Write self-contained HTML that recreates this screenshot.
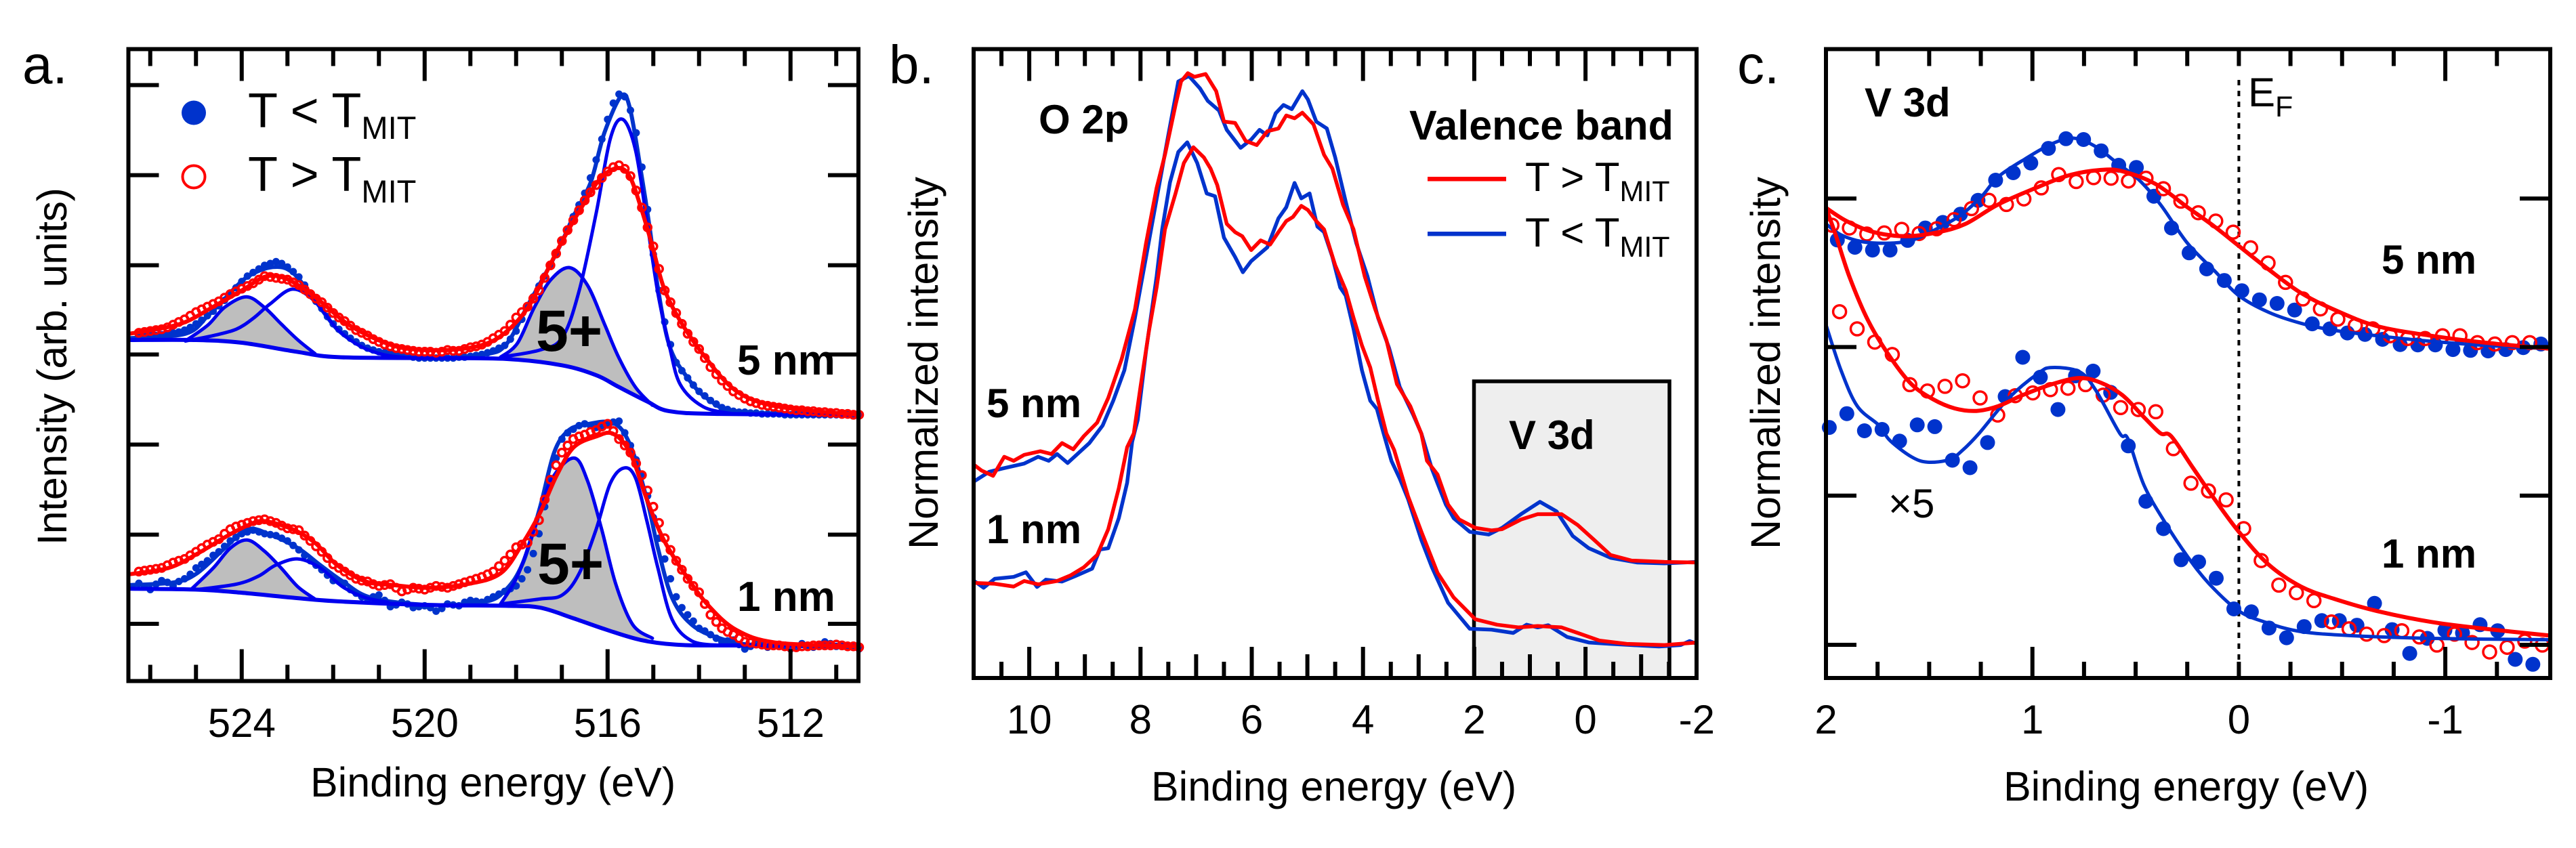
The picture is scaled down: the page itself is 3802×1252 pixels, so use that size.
<!DOCTYPE html>
<html lang="en">
<head>
<meta charset="utf-8">
<title>XPS and valence band spectra</title>
<style>
html,body{margin:0;padding:0;background:#fff;width:3802px;height:1252px;overflow:hidden}
svg{display:block}
text{font-family:"Liberation Sans",sans-serif;fill:#000}
.axis{font-size:61px}
.tick{font-size:60px;text-anchor:middle}
.bold{font-weight:bold;font-size:60px}
.panel{font-size:80px}
</style>
</head>
<body>
<svg id="figure" xmlns="http://www.w3.org/2000/svg" width="3802" height="1252" viewBox="0 0 3802 1252">
  <rect x="0" y="0" width="3802" height="1252" fill="#fff"/>
  <g id="a-plot"></g>
  <rect x="2175.5" y="563" width="288.5" height="438" fill="#eeeeee" stroke="#000" stroke-width="5.5"/>
  <g id="b-plot"></g>
  <g id="c-plot"></g>
  <g id="axes"></g>
  <rect x="189.5" y="72.5" width="1077.5" height="933" fill="none" stroke="#000" stroke-width="6"/>
  <rect x="1437" y="72.5" width="1067" height="928.5" fill="none" stroke="#000" stroke-width="6"/>
  <rect x="2695" y="72.5" width="1069" height="928.5" fill="none" stroke="#000" stroke-width="6"/>

  <text class="panel" x="33" y="123">a.</text>
  <text class="panel" x="1312" y="123">b.</text>
  <text class="panel" x="2564" y="123">c.</text>

  <text class="axis" transform="translate(98,805) rotate(-90)" textLength="528">Intensity (arb. units)</text>
  <text class="axis" transform="translate(1384,811) rotate(-90)" textLength="550">Normalized intensity</text>
  <text class="axis" transform="translate(2627,811) rotate(-90)" textLength="550">Normalized intensity</text>

  <text class="axis" x="458" y="1176">Binding energy (eV)</text>
  <text class="axis" x="1699" y="1182">Binding energy (eV)</text>
  <text class="axis" x="2957" y="1182">Binding energy (eV)</text>

  <g>
    <circle cx="286" cy="166.5" r="18" fill="#0033cc"/>
    <text x="366" y="188" font-size="72">T &lt; T<tspan dy="17" font-size="47">MIT</tspan></text>
    <circle cx="286" cy="261" r="16.5" fill="#fff" stroke="#ff0000" stroke-width="4"/>
    <text x="366" y="282" font-size="72">T &gt; T<tspan dy="17" font-size="47">MIT</tspan></text>
  </g>
  <text x="791" y="518" font-size="86" font-weight="bold">5+</text>
  <text x="793" y="862" font-size="86" font-weight="bold">5+</text>
  <text class="bold" x="1088" y="553" font-size="62" style="font-size:62px">5 nm</text>
  <text class="bold" x="1088" y="902" font-size="62" style="font-size:62px">1 nm</text>

  <text class="bold" x="1533" y="197">O 2p</text>
  <text class="bold" x="2080" y="206" style="font-size:61px">Valence band</text>
  <g>
    <rect x="2107" y="261" width="116" height="6.5" fill="#ff0000"/>
    <text x="2251" y="282" font-size="60">T &gt; T<tspan dy="15" font-size="43">MIT</tspan></text>
    <rect x="2107" y="342" width="116" height="6.5" fill="#0033cc"/>
    <text x="2251" y="364" font-size="60">T &lt; T<tspan dy="15" font-size="43">MIT</tspan></text>
  </g>
  <text class="bold" x="1456" y="616">5 nm</text>
  <text class="bold" x="1456" y="802">1 nm</text>
  <text class="bold" x="2227" y="663">V 3d</text>

  <text class="bold" x="2752" y="172">V 3d</text>
  <text x="3318" y="157" font-size="60">E<tspan dy="15" font-size="43">F</tspan></text>
  <text class="bold" x="3515" y="404">5 nm</text>
  <text class="bold" x="3515" y="838">1 nm</text>
  <text x="2787" y="764" font-size="60">×5</text>
</svg>

<script>
/* ---------- Panel a: V 2p core level (arb. units) ---------- */
const aMajorTicks = [524, 520, 516, 512];
const aMinorTicks = [526, 525, 523, 522, 521, 519, 518, 517, 515, 514, 513, 511];
const aIntensityTicks = [0, 99, 199, 299, 398, 498, 598];
const aTickLabels = ['524', '520', '516', '512'];

const a5BaseE = [526.46,525,524,522.8,521.9,519.9,518.2,517,516.25,515.76,515.14,514.65,513.55,510.5];
const a5BaseI = [315,315,312,302,296,295,294,287,276,263,247,236,233,232];
const a5C1E = [525.23,524.74,524.37,523.9,523.51,523.14,522.77,522.4];
const a5C1I = [314,331.6,351.5,363,351.5,333,315,300];
const a5C2E = [525.23,524.62,524.12,523.75,523.38,522.89,522.4,521.91,521.42,520.92,520.43];
const a5C2I = [314,320,327,339,355,371.5,358,327,308.6,299,295.7];
const a5C3E = [518.34,517.97,517.6,517.24,516.83,516.44,516.07,515.76,515.39,515.02];
const a5C3I = [296,311.6,351.5,382,395.4,376,333,296,262.6,242.6];
const a5C4E = [518.34,517.48,516.99,516.62,516.25,515.94,515.67,515.39,515.14,514.9,514.65,514.41,513.91,513.3];
const a5C4I = [296,304,317.8,370,455.8,538.6,560,526,446.6,367,308.6,265.6,241,233.4];
const a5BlueFitE = [526.46,525.23,524.74,524.37,523.88,523.32,522.89,522.4,521.91,521.42,520.92,519.94,518.71,518.22,517.73,517.3,516.99,516.74,516.37,516.07,515.7,515.51,515.27,515.08,514.9,514.65,514.28,513.79,513.05,510.5];
const a5BlueFitI = [317,322,342,361,385,396,390,359,327,310,301,295,299,310,355,394,425,453,490,545,586,572,502,440,373,309,275,249,235,232];
const a5RedFitE = [526.46,525.85,525.23,524.62,524,523.51,523.14,522.77,522.28,521.66,520.92,520.31,519.45,518.71,518.22,517.73,517.3,516.99,516.5,516.13,515.76,515.51,515.27,515.02,514.77,514.41,513.91,513.3,512.68,511.82,510.5];
const a5RedFitI = [322,327,335,352,370,385,385,376,358,332,313,305,304,310,324,352,394,425,468,496,506,496,462,419,373,336,299,263,246,238,232];
const a5BlueDots = [320,320,321,323,326,333,342,353,366,380,390,398,402,396,385,366,350,333,322,313,306,302,300,298,296,295,295,295,296,297,299,303,309,325,352,375,398,425,452,478,515,560,588,570,507,410,335,290,273,258,248,240,236,235,234,233,233,232,232,232,232,232,232,232];
const a5RedDots = [323,325,327,332,338,346,352,358,366,372,378,386,384,382,376,366,357,345,336,326,320,313,308,305,303,302,301,304,303,307,310,317,325,340,352,370,398,425,448,470,487,502,509,497,462,419,370,345,322,305,285,270,258,250,245,242,240,238,237,236,235,234,233,232];
const a5BlueDotsHalf = [320,320,322,324,329,337,347,359,373,386,394,400,400,391,376,358,341,327,317,309,304,301,299,297,295,295,295,295,296,298,301,306,316,338,363,386,411,438,465,495,538,578,585,545,460,370,310,281,265,253,244,238,235,234,233,233,232,232,232,232,232,232,232];
const a5RedDotsHalf = [324,326,329,335,342,349,355,362,369,375,382,385,383,379,371,361,351,340,331,323,316,310,306,304,302,302,302,303,305,308,313,321,332,346,361,384,411,437,459,479,495,507,505,481,440,394,357,333,313,295,277,264,254,247,243,241,239,237,236,235,234,233,232];

const a1BaseE = [526.46,524.98,524,522.89,521.91,519.94,518.22,517.48,516.74,516,515.27,514.53,513.55,510.5];
const a1BaseI = [39,38,34.5,29,25,21,20,18,6,-7,-18,-23,-24,-24];
const a1C1E = [525.11,524.62,524.25,523.88,523.51,523.14,522.77,522.4];
const a1C1I = [38,62,84,93,81,62,41,27.5];
const a1C2E = [524.98,524.12,523.63,523.26,522.77,522.28,521.79,521.29,520.8];
const a1C2I = [38,44,53,65,72,62,41,29,24];
const a1C3E = [518.34,517.97,517.6,517.24,516.74,516.44,516.13,515.82,515.45,515.02];
const a1C3I = [22,53,105,159,184,159,105,44,-1,-16];
const a1C4E = [518.34,517.48,516.99,516.62,516.25,515.94,515.64,515.39,515.14,514.9,514.59,514.16,513.55];
const a1C4I = [22,27.5,32,56,105,156,173,162,114,62,5,-19,-24];
const a1BlueFitE = [526.46,525.48,524.98,524.37,523.88,523.38,522.77,522.28,521.79,521.17,519.94,518.71,518.22,517.85,517.48,517.17,516.87,516.5,515.88,515.51,515.14,514.9,514.59,514.16,513.55,512.68,510.5];
const a1BlueFitI = [43,46,56,84,105,99,84,65,47,29,21,24,38,68,129,190,214,221,223,199,138,84,29,-1,-16,-24,-25];
const a1RedFitE = [526.46,525.6,524.98,524.37,523.88,523.51,522.89,522.4,521.91,521.29,520.68,519.94,519.08,518.34,517.85,517.48,517.11,516.74,516.25,515.88,515.51,515.14,514.77,514.28,513.79,513.18,512.31,510.5];
const a1RedFitI = [55,62,77.5,96,109,114,105,90,65,47,43,40,44,56,90,123,165,196,208,211,190,138,93,53,20,-7,-21,-25];
const a1BlueDots = [45,38,48,42,50,62,70,80,92,100,104,100,98,92,82,70,60,48,45,34,28,32,19,24,18,20,14,22,20,26,24,30,36,42,60,100,160,205,216,222,218,222,225,198,165,118,72,30,10,-5,-12,-20,-18,-28,-22,-26,-24,-28,-22,-26,-20,-25,-24,-28];
const a1RedDots = [58,60,62,68,72,80,88,94,105,110,114,116,112,106,104,92,80,66,58,50,47,42,44,36,40,38,42,40,44,48,52,58,70,85,90,115,160,190,205,210,215,222,205,190,165,130,95,70,50,35,10,-5,-12,-20,-22,-24,-24,-26,-25,-24,-24,-23,-25,-26];
const a1BlueDotsHalf = [41,44,46,47,55,66,76,86,96,102,102,99,95,87,76,65,54,47,38,30,30,26,21,22,19,18,17,21,24,25,27,33,39,50,78,130,184,212,220,220,220,224,212,182,142,95,50,18,3,-8,-16,-19,-23,-25,-24,-25,-26,-25,-24,-23,-22,-25,-26];
const a1RedDotsHalf = [59,61,65,70,76,84,91,100,108,112,115,114,109,105,98,86,73,62,54,48,44,43,40,38,39,40,41,42,46,50,55,64,77,88,102,138,176,198,208,213,219,214,198,178,148,112,82,60,42,22,2,-9,-16,-21,-23,-24,-25,-26,-25,-24,-24,-24,-25];

/* ---------- Panel b: valence band ---------- */
const bMajorTicks = [10, 8, 6, 4, 2, 0];
const bMidTicks = [9, 7, 5, 3, 1, -1];
const bMinorTicks = [10.5, 9.5, 8.5, 7.5, 6.5, 5.5, 4.5, 3.5, 2.5, 1.5, 0.5, -0.5, -1.5];
const bTickValues = [10, 8, 6, 4, 2, 0, -2];
const bTickLabels = ['10', '8', '6', '4', '2', '0', '-2'];

const b5BlueE = [10.99,10.72,10.48,10.09,9.84,9.65,9.5,9.31,8.92,8.68,8.49,8.29,8.1,7.9,7.71,7.51,7.32,7.13,6.93,6.79,6.59,6.45,6.2,6.01,5.86,5.72,5.57,5.43,5.28,5.09,4.99,4.84,4.65,4.5,4.31,4.12,3.92,3.73,3.53,3.34,3.1,2.95,2.76,2.51,2.37,2.08,1.74,1.5,1.16,0.82,0.52,0.23,-0.06,-0.45,-0.93,-1.42,-2];
const b5BlueV = [142.3,149.2,151.6,155.2,160.1,157.2,162.1,155.6,170,182.8,200.7,222.7,260.7,304.7,346.7,390.7,431.7,435.7,426.7,417.7,410.7,396.7,383.7,389.7,396.7,392.7,408.7,414.7,411.7,424.7,418.7,402.7,397.7,376.7,344.7,314.7,290.7,260.7,238.7,210.7,190.7,176.9,151.2,125.5,115.7,105.8,103.8,108.7,118.6,127.5,120.6,102.8,93.9,87,83.6,83,84];
const b5RedE = [10.99,10.86,10.65,10.45,10.28,10.09,9.8,9.6,9.41,9.21,9.02,8.78,8.58,8.34,8.1,7.9,7.71,7.56,7.37,7.27,7.15,7.03,6.83,6.64,6.5,6.3,6.11,5.91,5.72,5.52,5.38,5.23,5.09,4.89,4.7,4.55,4.36,4.17,3.97,3.78,3.58,3.39,3.15,2.95,2.85,2.66,2.47,2.27,1.98,1.69,1.5,1.16,0.86,0.43,0.14,-0.16,-0.45,-0.83,-1.42,-2];
const b5RedV = [154.2,150.2,146.3,160.1,157.2,161.5,164.1,162.1,170,165.5,175,184.8,202.7,230.7,266.7,314.7,354.7,378.7,414.7,431.7,437.7,435.1,437.1,424.7,402.7,401.7,388.7,385.7,395.7,397.7,407.1,405.1,409.1,400.7,378.7,368.7,342.7,324.7,290.7,266.7,244.7,212.7,196.7,176.7,157.2,147.3,125.5,114.7,108.7,106.8,107.7,114.7,118.6,118.6,110.7,99.8,89,85,84,83.6];
const b1BlueE = [10.99,10.82,10.62,10.28,10.06,9.86,9.7,9.41,9.17,8.87,8.73,8.58,8.39,8.24,8.15,8.05,7.9,7.71,7.61,7.47,7.32,7.16,6.98,6.81,6.66,6.5,6.3,6.16,6.01,5.72,5.52,5.38,5.23,5.11,4.96,4.82,4.7,4.55,4.41,4.31,4.17,4.02,3.87,3.75,3.63,3.49,3.34,3.19,2.95,2.76,2.47,2.08,1.69,1.3,1.06,0.86,0.67,0.33,-0.06,-0.45,-0.83,-1.32,-1.71,-1.87,-2];
const b1BlueV = [70.2,65.3,71.8,73.2,76.5,65.9,71.2,69.8,73.8,79.1,93,93.9,115.7,141.3,171,186.8,236.7,290.7,324.7,358.7,380.7,387.7,372.7,350.7,348.7,318.7,304.7,293.7,301.7,311.7,332.7,340.7,358.3,347.1,350.7,326.7,322.7,304.7,282.7,276.7,252.7,222.7,200.7,194.7,177,157.2,144.3,129.5,99.8,80.1,54.4,35.6,35,32.6,38.6,36.6,38.2,29.7,25.7,24.7,23.8,22.8,23.8,26.7,24.7];
const b1RedE = [10.99,10.62,10.28,10.09,9.84,9.5,9.26,9.02,8.78,8.58,8.39,8.24,8.12,8.0,7.85,7.71,7.56,7.37,7.22,7.05,6.86,6.74,6.62,6.45,6.3,6.17,6.01,5.84,5.67,5.52,5.38,5.26,5.11,4.99,4.84,4.7,4.5,4.31,4.17,4.02,3.87,3.73,3.58,3.44,3.19,2.95,2.66,2.37,1.98,1.59,1.2,0.86,0.43,0.14,-0.25,-0.74,-1.42,-2];
const b1RedV = [68.8,68.2,66.2,70.2,67.8,70.2,74.2,80.1,89,107.7,137.4,167,177,210.7,250.7,282.7,324.7,350.7,372.7,384.1,376.7,368.7,356.7,328.7,322.7,319.7,309.7,316.7,313.7,322.7,330.7,333.7,341.7,338.7,330.7,324.7,298.7,280.7,260.7,240.7,224.7,200.7,177,165,131.5,105.8,76.1,58.3,42.5,38.6,36.6,37.6,36.6,32.6,27.1,24.7,23.8,25.7];

/* ---------- Panel c: V 3d close-up ---------- */
const cMajorTicks = [1, -1];
const cMinorTicks = [1.75, 1.5, 1.25, 0.75, 0.5, 0.25, 0, -0.25, -0.5, -0.75, -1.25];
const cIntensityTicks = [24, 132, 239.5, 347];
const cTickValues = [2, 1, 0, -1];
const cTickLabels = ['2', '1', '0', '-1'];

const c5BlueFitE = [2,1.927,1.822,1.691,1.586,1.481,1.35,1.245,1.166,1.035,0.904,0.8,0.695,0.59,0.485,0.38,0.249,0.118,0,-0.144,-0.301,-0.459,-0.668,-0.931,-1.193,-1.507];
const c5BlueFitV = [328.7,320.7,315.7,314.7,316.7,323.7,334.7,348.7,362.7,375.7,386.7,390.7,384.7,372.7,360.7,342.7,314.7,294.7,276.7,264.7,256.7,251.7,247.7,243.7,240.7,238.3];
const c5RedFitE = [2,1.9,1.769,1.612,1.455,1.324,1.166,0.983,0.826,0.668,0.564,0.406,0.249,0.118,0,-0.144,-0.301,-0.459,-0.668,-0.931,-1.193,-1.507];
const c5RedFitV = [340.3,330.7,322.7,319.7,322.7,328.7,342.7,354.7,363.7,367.7,366.7,357.7,340.7,326.7,312.7,295.7,278.7,266.7,254.7,247.7,242.7,238.3];
const c5BlueDots = [317,311.7,309.7,309.7,316.7,325.7,329.7,335.7,345.7,360.3,365.7,372.7,383.3,390.3,389.7,381.5,371.1,369.5,348.7,325.7,307.7,296.1,287.7,280.3,273.7,271.1,266.3,256.3,252.7,249.7,248.7,245.1,241.3,241.1,241.1,237.7,237.1,236.7,237.7,239.1,241.7];
const c5RedDots = [327.7,325.7,321.3,322.1,324.7,321.7,325.1,331.7,339.7,345.7,342.7,346.7,354.7,364.3,359.3,362.1,361.7,359.7,361.7,354.1,345.1,336.7,330.7,322.7,311.3,300.3,286.3,274.3,267.1,259.7,255.1,252.7,247.7,245.7,245.7,247.7,247.7,242.7,241.7,242.7,242.7];
const c1BlueFitE = [2,1.927,1.848,1.743,1.691,1.586,1.507,1.402,1.337,1.258,1.114,0.97,0.904,0.773,0.695,0.577,0.537,0.459,0.354,0.249,0.144,0,-0.144,-0.301,-0.537,-0.931,-1.507];
const c1BlueFitV = [255.7,222.7,196.7,182.8,172,160.1,156.2,158.1,165,177.1,202.7,220.7,224.7,221.7,208.7,177.1,173,139.4,111.7,88,68.2,48.5,39.6,33.6,30.7,28.7,27.7];
const c1RedFitE = [2,1.953,1.887,1.796,1.691,1.586,1.481,1.376,1.271,1.166,1.048,0.904,0.773,0.668,0.564,0.459,0.38,0.328,0.223,0.118,0,-0.144,-0.301,-0.459,-0.668,-0.931,-1.193,-1.507];
const c1RedFitV = [340.3,320.7,290.7,258.7,232.7,212.7,201.7,195.1,193.3,196.7,204.7,212.7,217.1,213.7,204.7,188.7,177.1,175,152.2,129.5,105.8,82.1,66.2,57.4,48.5,40.6,35.6,30.7];
const c1BlueDots = [181.3,191.3,178.9,179.9,171.4,183.2,181.9,157.6,152.2,170.4,203.7,232.1,217.7,194.3,218.7,222.1,206.7,168,127.9,108.1,85.6,84,72.2,50,47.9,36.2,29.1,37.2,41.5,41.5,38.2,54,35,17.8,28.7,34.6,32.6,38.6,34.2,13.5,9.9];
const c1RedDots = [265.1,252.7,243.1,234.1,212.3,207.7,211.1,215.1,202.7,190.3,204.3,206.3,208.7,209.7,212.3,204.7,195.7,194.3,192.7,166,141,135.4,128.9,108.1,85,67.2,61.7,56,40.6,35.6,31.7,30.7,34.2,29.7,23.8,31.7,25.7,18.8,22.2,26.7,23.8];

/* ---------- Axis functions ---------- */
const xA = e => 189.5 + (526.46 - e) * 67.5 + 1.2;
const yA = i => 921 - i * 1.33;
const xB = e => 1437 + (11 - e) * 82.1;
const yB = v => 1001 - v * 2.04;
const xC = e => 2695 + (2 - e) * 304.7;
const yC = v => 1001 - v * 2.04;

const NS = 'http://www.w3.org/2000/svg';
const BLUE = '#0033cc', PURE = '#0000ee', RED = '#ff0000';

function pts(es, vs, xf, yf) {
  return es.map((e, k) => [xf(e), yf(vs[k])]);
}
function smooth(p) {
  let d = 'M' + p[0][0].toFixed(1) + ' ' + p[0][1].toFixed(1);
  for (let k = 0; k < p.length - 1; k++) {
    const a = p[Math.max(k - 1, 0)], b = p[k], c = p[k + 1], e = p[Math.min(k + 2, p.length - 1)];
    const c1x = b[0] + (c[0] - a[0]) / 6, c1y = b[1] + (c[1] - a[1]) / 6;
    const c2x = c[0] - (e[0] - b[0]) / 6, c2y = c[1] - (e[1] - b[1]) / 6;
    d += 'C' + c1x.toFixed(1) + ' ' + c1y.toFixed(1) + ' ' + c2x.toFixed(1) + ' ' + c2y.toFixed(1) + ' ' + c[0].toFixed(1) + ' ' + c[1].toFixed(1);
  }
  return d;
}
function straight(p) {
  return 'M' + p.map(q => q[0].toFixed(1) + ' ' + q[1].toFixed(1)).join('L');
}
function makePath(d, color, width) {
  const el = document.createElementNS(NS, 'path');
  el.setAttribute('d', d);
  el.setAttribute('fill', 'none');
  el.setAttribute('stroke', color);
  el.setAttribute('stroke-width', width);
  el.setAttribute('stroke-linejoin', 'round');
  el.setAttribute('stroke-linecap', 'round');
  return el;
}
function makeDot(x, y, r, filled, color, sw) {
  const el = document.createElementNS(NS, 'circle');
  el.setAttribute('cx', x.toFixed(1));
  el.setAttribute('cy', y.toFixed(1));
  el.setAttribute('r', r);
  el.setAttribute('fill', filled ? color : 'none');
  if (!filled) {
    el.setAttribute('stroke', color);
    el.setAttribute('stroke-width', sw);
  }
  return el;
}
function makeLine(x1, y1, x2, y2, w) {
  const el = document.createElementNS(NS, 'line');
  el.setAttribute('x1', x1);
  el.setAttribute('y1', y1);
  el.setAttribute('x2', x2);
  el.setAttribute('y2', y2);
  el.setAttribute('stroke', '#000');
  el.setAttribute('stroke-width', w);
  return el;
}
function makeLabel(x, y, str) {
  const el = document.createElementNS(NS, 'text');
  el.setAttribute('class', 'tick');
  el.setAttribute('x', x.toFixed(1));
  el.setAttribute('y', y);
  el.textContent = str;
  return el;
}
function shaded(cE, cI, bE, bI) {
  const top = pts(cE, cI, xA, yA);
  const hi = cE[0], lo = cE[cE.length - 1];
  let d = smooth(top);
  for (let k = bE.length - 1; k >= 0; k--) {
    if (bE[k] < hi && bE[k] > lo) {
      d += 'L' + xA(bE[k]).toFixed(1) + ' ' + yA(bI[k]).toFixed(1);
    }
  }
  const el = document.createElementNS(NS, 'path');
  el.setAttribute('d', d + 'Z');
  el.setAttribute('fill', '#bebebe');
  return el;
}

/* ---------- Draw panel a ---------- */
const aPlot = document.getElementById('a-plot');
function drawASet(baseE, baseI, c1E, c1I, c2E, c2I, c3E, c3I, c4E, c4I, blueDots, blueHalf, redDots, redHalf, blueE, blueI, redE, redI) {
  const s1 = shaded(c1E, c1I, baseE, baseI);
  
  
  aPlot.appendChild(s1);
  const s3 = shaded(c3E, c3I, baseE, baseI);
  
  
  aPlot.appendChild(s3);

  blueDots.forEach((v, k) => {
    const dot = makeDot(xA(526.25 - k * 0.25), yA(v), 5.5, true, BLUE, 0);
    
    
    aPlot.appendChild(dot);
  });
  blueHalf.forEach((v, k) => {
    const dot = makeDot(xA(526.125 - k * 0.25), yA(v), 5.5, true, BLUE, 0);
    
    
    aPlot.appendChild(dot);
  });
  const blueFit = makePath(smooth(pts(blueE, blueI, xA, yA)), BLUE, 6);
  
  
  aPlot.appendChild(blueFit);

  [[c1E, c1I], [c2E, c2I], [c3E, c3I], [c4E, c4I]].forEach(pair => {
    const comp = makePath(smooth(pts(pair[0], pair[1], xA, yA)), PURE, 5);
    
    
    aPlot.appendChild(comp);
  });
  const base = makePath(smooth(pts(baseE, baseI, xA, yA)), PURE, 6);
  
  
  aPlot.appendChild(base);

  redDots.forEach((v, k) => {
    const dot = makeDot(xA(526.25 - k * 0.25), yA(v), 5.5, false, RED, 3.5);
    
    
    aPlot.appendChild(dot);
  });
  redHalf.forEach((v, k) => {
    const dot = makeDot(xA(526.125 - k * 0.25), yA(v), 5.5, false, RED, 3.5);
    
    
    aPlot.appendChild(dot);
  });
  const redFit = makePath(smooth(pts(redE, redI, xA, yA)), RED, 6);
  
  
  aPlot.appendChild(redFit);
}
drawASet(a5BaseE, a5BaseI, a5C1E, a5C1I, a5C2E, a5C2I, a5C3E, a5C3I, a5C4E, a5C4I, a5BlueDots, a5BlueDotsHalf, a5RedDots, a5RedDotsHalf, a5BlueFitE, a5BlueFitI, a5RedFitE, a5RedFitI);
drawASet(a1BaseE, a1BaseI, a1C1E, a1C1I, a1C2E, a1C2I, a1C3E, a1C3I, a1C4E, a1C4I, a1BlueDots, a1BlueDotsHalf, a1RedDots, a1RedDotsHalf, a1BlueFitE, a1BlueFitI, a1RedFitE, a1RedFitI);

/* ---------- Draw panel b ---------- */
const bPlot = document.getElementById('b-plot');
[[b5BlueE, b5BlueV, BLUE], [b1BlueE, b1BlueV, BLUE], [b5RedE, b5RedV, RED], [b1RedE, b1RedV, RED]].forEach(set => {
  const line = makePath(straight(pts(set[0], set[1], xB, yB)), set[2], 5.5);
  
  
  bPlot.appendChild(line);
});

/* ---------- Draw panel c ---------- */
const cPlot = document.getElementById('c-plot');
const fermi = makeLine(xC(0), 118, xC(0), 1001, 4);
fermi.setAttribute('stroke-dasharray', '8 8');


cPlot.appendChild(fermi);

c5BlueDots.forEach((v, k) => {
  const dot = makeDot(xC(1.945 - k * 0.0852), yC(v), 11, true, BLUE, 0);
  
  
  cPlot.appendChild(dot);
});
c1BlueDots.forEach((v, k) => {
  const dot = makeDot(xC(1.984 - k * 0.0852), yC(v), 11, true, BLUE, 0);
  
  
  cPlot.appendChild(dot);
});
c5RedDots.forEach((v, k) => {
  const dot = makeDot(xC(1.971 - k * 0.0845), yC(v), 9.5, false, RED, 3.5);
  
  
  cPlot.appendChild(dot);
});
c1RedDots.forEach((v, k) => {
  const dot = makeDot(xC(1.934 - k * 0.0851), yC(v), 9.5, false, RED, 3.5);
  
  
  cPlot.appendChild(dot);
});
[[c5BlueFitE, c5BlueFitV, BLUE, 5], [c1BlueFitE, c1BlueFitV, BLUE, 5], [c5RedFitE, c5RedFitV, RED, 6], [c1RedFitE, c1RedFitV, RED, 6]].forEach(set => {
  const fit = makePath(smooth(pts(set[0], set[1], xC, yC)), set[2], set[3]);
  
  
  cPlot.appendChild(fit);
});

/* ---------- Ticks and tick labels ---------- */
const axes = document.getElementById('axes');
function addXTicks(values, xf, top, bottom, topLen, bottomLen) {
  values.forEach(v => {
    const t1 = makeLine(xf(v), top, xf(v), top + topLen, 6);
    
    
    axes.appendChild(t1);
    const t2 = makeLine(xf(v), bottom, xf(v), bottom - bottomLen, 6);
    
    
    axes.appendChild(t2);
  });
}
function addYTicks(values, yf, left, right) {
  values.forEach(v => {
    const t1 = makeLine(left, yf(v), left + 45, yf(v), 6);
    
    
    axes.appendChild(t1);
    const t2 = makeLine(right, yf(v), right - 45, yf(v), 6);
    
    
    axes.appendChild(t2);
  });
}
addXTicks(aMajorTicks, xA, 72.5, 1005.5, 47, 47);
addXTicks(aMinorTicks, xA, 72.5, 1005.5, 25, 24);
addYTicks(aIntensityTicks, yA, 189.5, 1267);
addXTicks(bMajorTicks, xB, 72.5, 1001, 47, 46);
addXTicks(bMidTicks, xB, 72.5, 1001, 25, 35);
addXTicks(bMinorTicks, xB, 72.5, 1001, 25, 24);
addXTicks(cMajorTicks, xC, 72.5, 1001, 47, 46);
addXTicks(cMinorTicks, xC, 72.5, 1001, 25, 24);
addYTicks(cIntensityTicks, yC, 2695, 3764);

aMajorTicks.forEach((v, k) => {
  const label = makeLabel(xA(v), 1088, aTickLabels[k]);
  
  
  axes.appendChild(label);
});
bTickValues.forEach((v, k) => {
  const label = makeLabel(xB(v), 1083, bTickLabels[k]);
  
  
  axes.appendChild(label);
});
cTickValues.forEach((v, k) => {
  const label = makeLabel(xC(v), 1083, cTickLabels[k]);
  
  
  axes.appendChild(label);
});
</script>
</body>
</html>
